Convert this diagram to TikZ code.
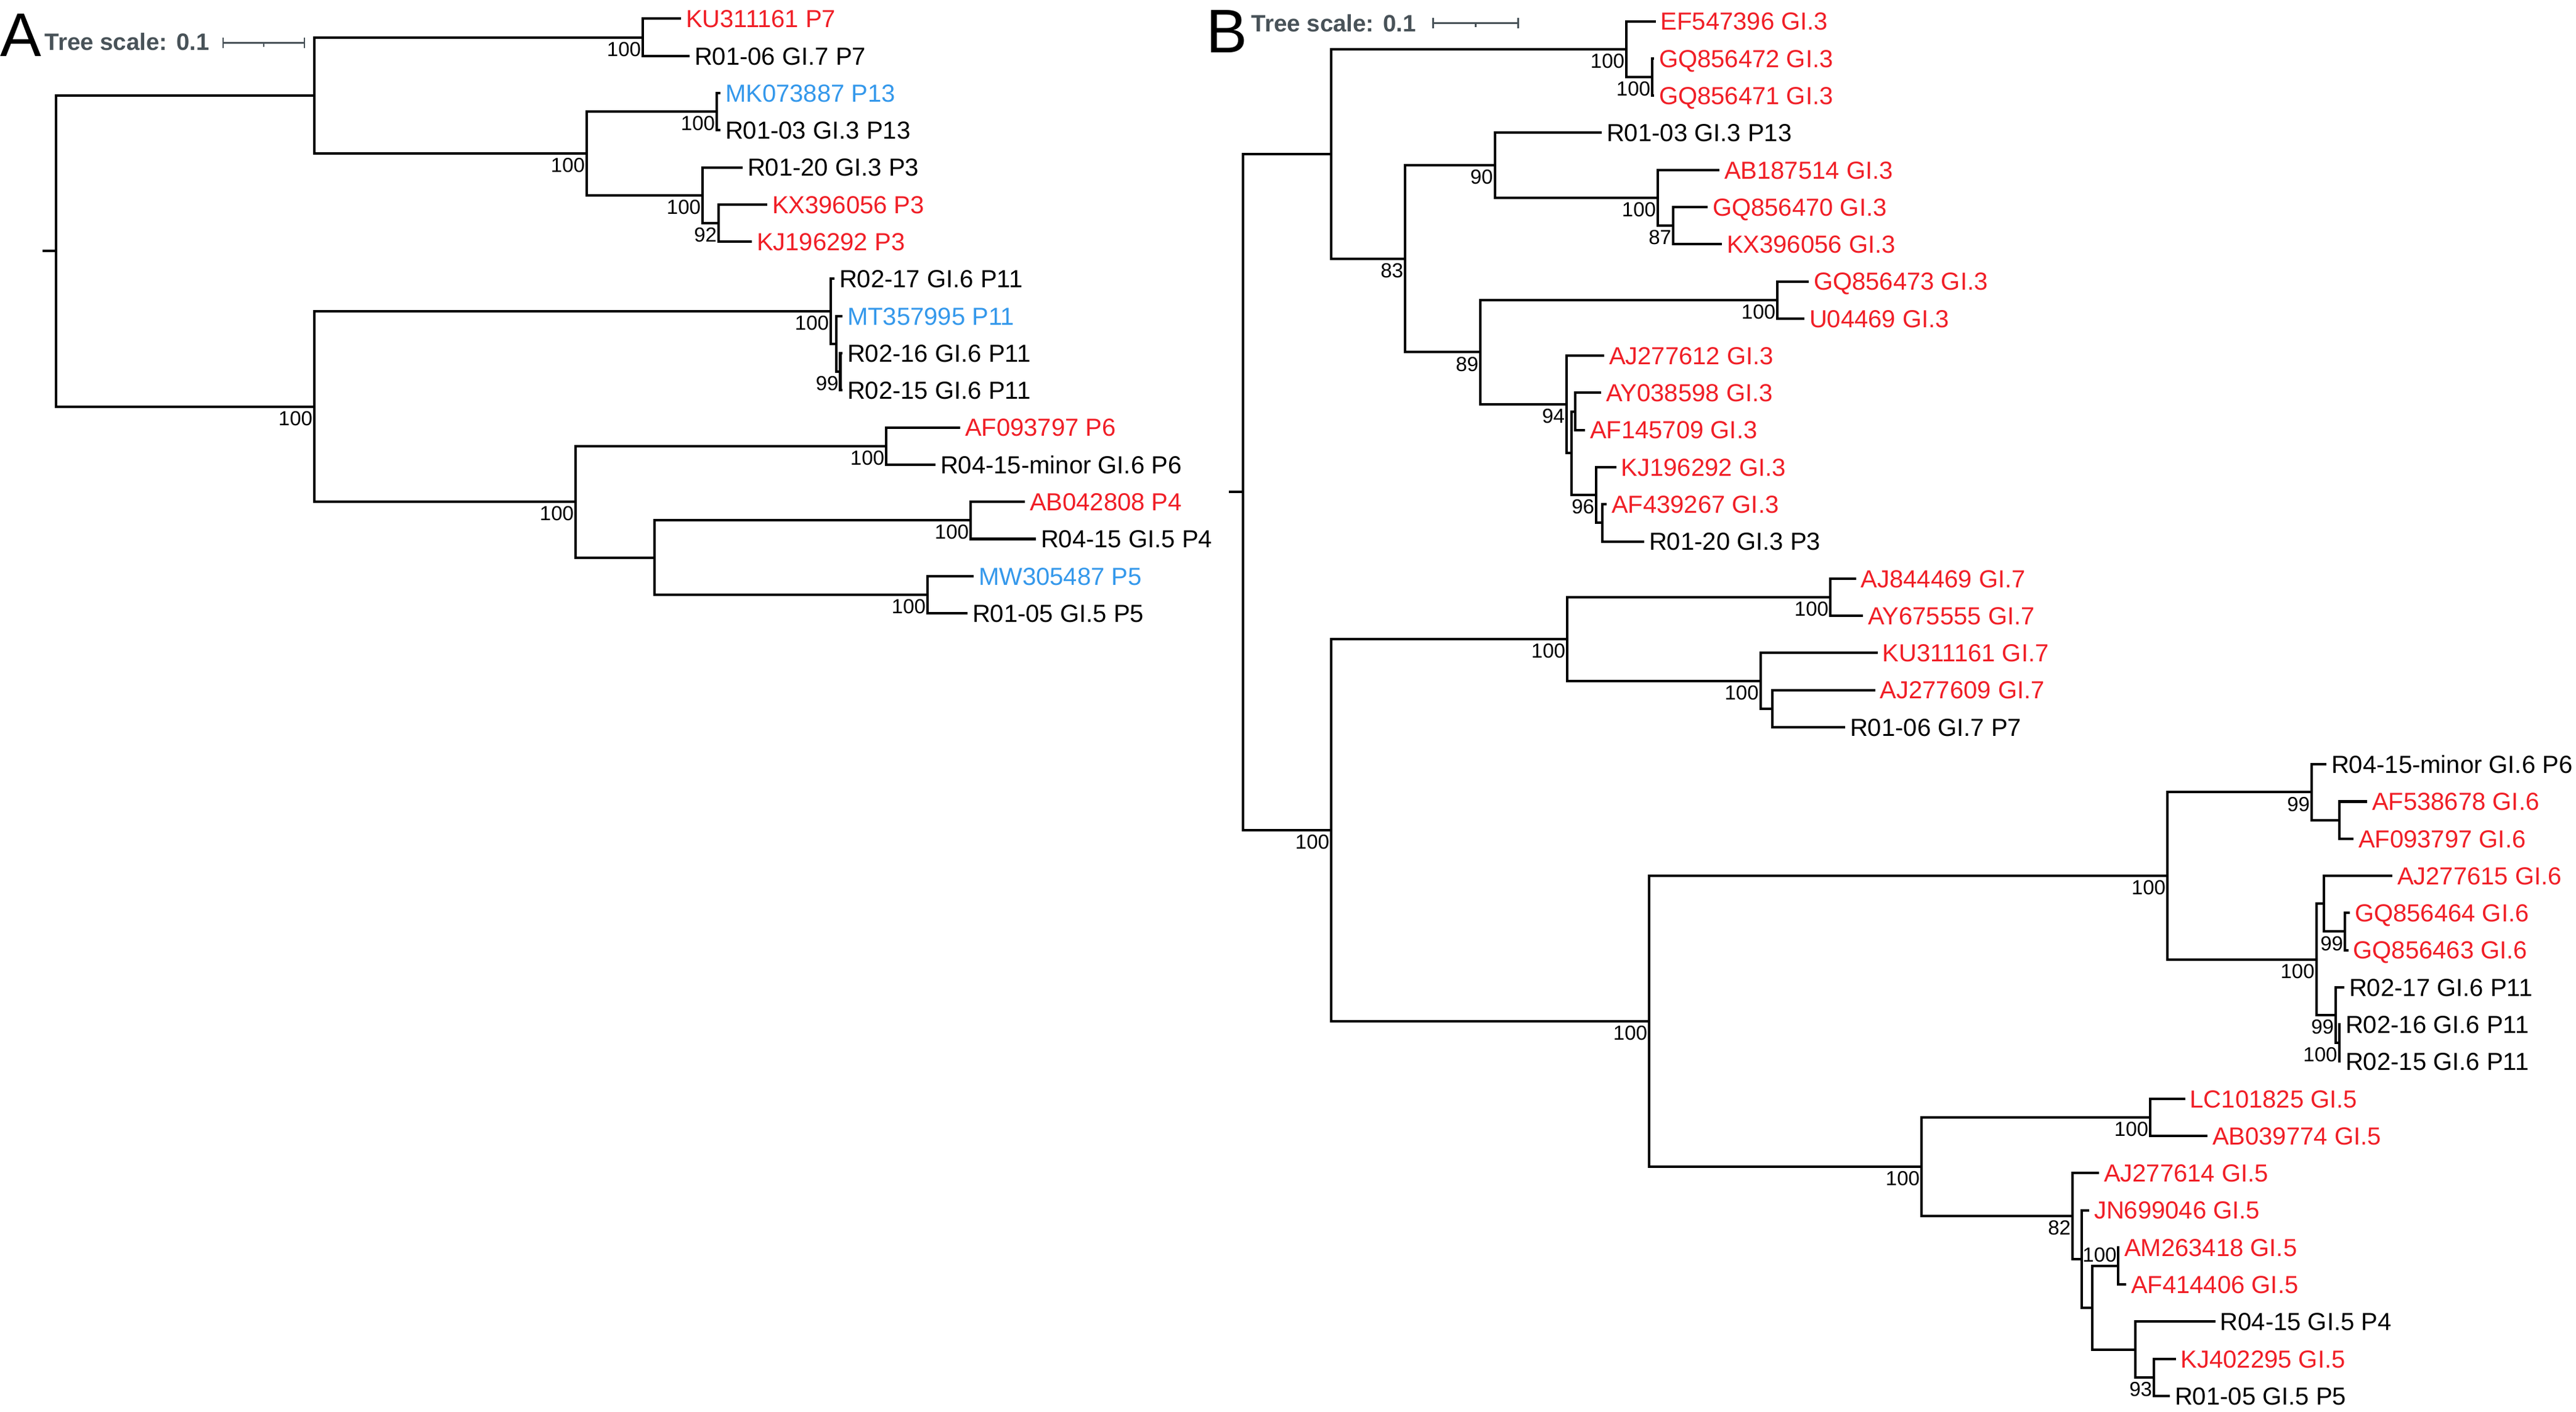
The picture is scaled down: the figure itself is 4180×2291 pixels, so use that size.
\documentclass[tikz,border=0pt]{standalone}
\usepackage{fontspec}
\setmainfont{Liberation Sans}
\definecolor{tred}{RGB}{240,30,38}
\definecolor{tblue}{RGB}{52,152,235}
\definecolor{tgrey}{RGB}{72,82,88}
\newcommand{\leaffont}{\fontsize{11.38pt}{13pt}\selectfont}
\newcommand{\bsfont}{\fontsize{9.39pt}{11pt}\selectfont}
\newcommand{\tsfont}{\fontsize{10.95pt}{13pt}\selectfont\bfseries}
\newcommand{\panelfont}{\fontsize{28.45pt}{32pt}\selectfont}
\begin{document}
\begin{tikzpicture}[x=0.01cm,y=-0.01cm,
  br/.style={line width=1.15pt},
  sbar/.style={line width=0.85pt,draw=tgrey},
  leaf/.style={anchor=west,inner xsep=0.08cm,inner ysep=0pt,outer sep=0pt,text height=0.286cm,text depth=0pt,font=\leaffont},
  rl/.style={leaf,text=tred},
  bl/.style={leaf,text=tblue},
  bs/.style={anchor=north east,inner sep=0pt,outer sep=0pt,text height=0.236cm,text depth=0pt,font=\bsfont,xshift=-0.03cm,yshift=-0.07cm},
  bsfree/.style={inner sep=0pt,outer sep=0pt,text height=0.236cm,text depth=0pt,font=\bsfont},
  panel/.style={anchor=base west,inner sep=0pt,font=\panelfont},
  tscale/.style={anchor=base west,inner sep=0pt,font=\tsfont,text=tgrey}]
\useasboundingbox (0,0) rectangle (4180,2291);

% ================= Panel A =================
\node[panel] (labA) at (0,92) {A};
\node[tscale] (tsA) at (72,82) {Tree scale: 0.1};
\coordinate (sbA1) at (362,69.6);
\coordinate (sbA2) at (494,69.6);
\coordinate (sbAm) at (428,69.6);
\draw[sbar] (sbA1) -- (sbA2);
\draw[sbar] ([yshift=0.085cm]sbA1) -- ([yshift=-0.085cm]sbA1);
\draw[sbar] ([yshift=0.085cm]sbA2) -- ([yshift=-0.085cm]sbA2);
\draw[sbar] (sbAm) -- ([yshift=-0.061cm]sbAm);

% leaves A
\node[rl] (kuA)   at (1105,30.4)  {KU311161 P7};
\node[leaf] (r06A) at (1119,90.7) {R01-06 GI.7 P7};
\node[bl] (mkA)   at (1169,151.0) {MK073887 P13};
\node[leaf] (r03A) at (1169,211.3) {R01-03 GI.3 P13};
\node[leaf] (r20A) at (1205,271.6) {R01-20 GI.3 P3};
\node[rl] (kxA)   at (1245,331.9) {KX396056 P3};
\node[rl] (kjA)   at (1220,392.1) {KJ196292 P3};
\node[leaf] (r17A) at (1354,452.4) {R02-17 GI.6 P11};
\node[bl] (mtA)   at (1367,512.7) {MT357995 P11};
\node[leaf] (r16A) at (1367,573.0) {R02-16 GI.6 P11};
\node[leaf] (r15A) at (1367,633.3) {R02-15 GI.6 P11};
\node[rl] (afA)   at (1558,693.6) {AF093797 P6};
\node[leaf] (r15mA) at (1518,753.9) {R04-15-minor GI.6 P6};
\node[rl] (abA)   at (1663,814.2) {AB042808 P4};
\node[leaf] (r415A) at (1681,874.5) {R04-15 GI.5 P4};
\node[bl] (mwA)   at (1580,934.8) {MW305487 P5};
\node[leaf] (r05A) at (1570,995.0) {R01-05 GI.5 P5};

% internal A
\coordinate (rAs) at (69,407.2);
\coordinate (rA) at (91,407.2);
\coordinate (a1) at (510,154.77);
\coordinate (a11) at (1043,60.55);
\coordinate (a12) at (952,248.98);
\coordinate (a121) at (1163,181.15);
\coordinate (a122) at (1140,316.8);
\coordinate (a1222) at (1166,362.0);
\coordinate (a2) at (510,659.68);
\coordinate (b) at (1348,505.16);
\coordinate (b2) at (1357,557.93);
\coordinate (b22) at (1363.5,603.15);
\coordinate (c) at (934,814.19);
\coordinate (c1) at (1438,723.75);
\coordinate (c2) at (1062,904.63);
\coordinate (c21) at (1575,844.35);
\coordinate (c22) at (1505,964.9);

\draw[br] (rAs) -- (rA);
\foreach \p/\q in {rA/a1,rA/a2,a1/a11,a1/a12,a12/a121,a12/a122,a122/a1222,a2/b,a2/c,b/b2,b2/b22,c/c1,c/c2,c2/c21,c2/c22}
  \draw[br] (\p) |- (\q);
\foreach \p/\q in {a11/kuA,a11/r06A,a121/mkA,a121/r03A,a122/r20A,a1222/kxA,a1222/kjA,b/r17A,b2/mtA,b22/r16A,b22/r15A,c1/afA,c1/r15mA,c21/abA,c21/r415A,c22/mwA,c22/r05A}
  \draw[br] (\p) |- (\q.west);

\foreach \n/\v in {a11/100,a12/100,a121/100,a122/100,a1222/92,a2/100,b/100,b22/99,c/100,c1/100,c21/100,c22/100}
  \node[bs] (bs-\n) at (\n) {\v};

% ================= Panel B =================
\node[panel] (labB) at (1957,86) {B};
\node[tscale] (tsB) at (2030,52) {Tree scale: 0.1};
\coordinate (sbB1) at (2325,37.5);
\coordinate (sbB2) at (2463,37.5);
\coordinate (sbBm) at (2394,37.5);
\draw[sbar] (sbB1) -- (sbB2);
\draw[sbar] ([yshift=0.08cm]sbB1) -- ([yshift=-0.08cm]sbB1);
\draw[sbar] ([yshift=0.08cm]sbB2) -- ([yshift=-0.08cm]sbB2);
\draw[sbar] (sbBm) -- ([yshift=-0.061cm]sbBm);

% leaves B
\node[rl] (ef)   at (2686.6,34.6)  {EF547396 GI.3};
\node[rl] (gq72) at (2684,94.88)   {GQ856472 GI.3};
\node[rl] (gq71) at (2684,155.16)  {GQ856471 GI.3};
\node[leaf] (r03B) at (2599,215.44) {R01-03 GI.3 P13};
\node[rl] (ab18) at (2790,275.72)  {AB187514 GI.3};
\node[rl] (gq70) at (2771,336.0)   {GQ856470 GI.3};
\node[rl] (kxB)  at (2794,396.28)  {KX396056 GI.3};
\node[rl] (gq73) at (2935,456.56)  {GQ856473 GI.3};
\node[rl] (u04)  at (2928,516.84)  {U04469 GI.3};
\node[rl] (aj12) at (2603,577.12)  {AJ277612 GI.3};
\node[rl] (ay03) at (2598,637.4)   {AY038598 GI.3};
\node[rl] (af14) at (2572,697.68)  {AF145709 GI.3};
\node[rl] (kjB)  at (2622.7,757.96) {KJ196292 GI.3};
\node[rl] (af43) at (2607,818.24)  {AF439267 GI.3};
\node[leaf] (r20B) at (2668,878.52) {R01-20 GI.3 P3};
\node[rl] (aj84) at (3011.7,938.8) {AJ844469 GI.7};
\node[rl] (ay67) at (3023,999.08)  {AY675555 GI.7};
\node[rl] (kuB)  at (3046.7,1059.36) {KU311161 GI.7};
\node[rl] (aj09) at (3042.7,1119.64) {AJ277609 GI.7};
\node[leaf] (r06B) at (2994,1179.92) {R01-06 GI.7 P7};
\node[leaf] (r15mB) at (3775,1240.2) {R04-15-minor GI.6 P6};
\node[rl] (af53) at (3841,1300.48) {AF538678 GI.6};
\node[rl] (af09) at (3819,1360.76) {AF093797 GI.6};
\node[rl] (aj15) at (3882,1421.04) {AJ277615 GI.6};
\node[rl] (gq64) at (3813,1481.32) {GQ856464 GI.6};
\node[rl] (gq63) at (3810.5,1541.6) {GQ856463 GI.6};
\node[leaf] (r17B) at (3804,1601.88) {R02-17 GI.6 P11};
\node[leaf] (r16B) at (3798,1662.16) {R02-16 GI.6 P11};
\node[leaf] (r15B) at (3798,1722.44) {R02-15 GI.6 P11};
\node[rl] (lc10) at (3545.6,1782.72) {LC101825 GI.5};
\node[rl] (ab03) at (3582,1843.0) {AB039774 GI.5};
\node[rl] (aj14) at (3406,1903.28) {AJ277614 GI.5};
\node[rl] (jn69) at (3390,1963.56) {JN699046 GI.5};
\node[rl] (am26) at (3439,2023.84) {AM263418 GI.5};
\node[rl] (af41) at (3450,2084.12) {AF414406 GI.5};
\node[leaf] (r415B) at (3594.6,2144.4) {R04-15 GI.5 P4};
\node[rl] (kj40) at (3530.6,2204.68) {KJ402295 GI.5};
\node[leaf] (r05B) at (3521,2264.96) {R01-05 GI.5 P5};

% internal B
\coordinate (rBs) at (1994,798.35);
\coordinate (rB) at (2017,798.35);
\coordinate (d) at (2160,249.82);
\coordinate (d1) at (2639,79.81);
\coordinate (d12) at (2681,125.02);
\coordinate (d2) at (2280,419.83);
\coordinate (d21) at (2425.6,268.19);
\coordinate (d212) at (2690,320.93);
\coordinate (d2122) at (2715,366.14);
\coordinate (d22) at (2402,571.47);
\coordinate (d221) at (2884,486.7);
\coordinate (d222) at (2542,656.24);
\coordinate (d2222) at (2550,735.36);
\coordinate (f1) at (2556,667.54);
\coordinate (f2) at (2590,803.17);
\coordinate (f22) at (2599.5,848.38);
\coordinate (e) at (2160,1346.87);
\coordinate (g) at (2543,1036.76);
\coordinate (g1) at (2970,968.94);
\coordinate (g2) at (2856.7,1104.57);
\coordinate (g22) at (2876,1149.78);
\coordinate (hk) at (2676,1656.98);
\coordinate (h) at (3517,1421.04);
\coordinate (h1) at (3751,1285.41);
\coordinate (h12) at (3795.5,1330.62);
\coordinate (h2) at (3758.6,1556.67);
\coordinate (h21) at (3771.4,1466.25);
\coordinate (h212) at (3805,1511.46);
\coordinate (h22) at (3790,1647.09);
\coordinate (h222) at (3795.5,1692.3);
\coordinate (k) at (3118,1892.92);
\coordinate (k1) at (3489,1812.86);
\coordinate (m2) at (3363,1972.98);
\coordinate (m22) at (3378,2042.68);
\coordinate (m222) at (3395,2121.8);
\coordinate (m2221) at (3437,2054.0);
\coordinate (m2222) at (3465,2189.61);
\coordinate (m22221) at (3495,2234.82);

\draw[br] (rBs) -- (rB);
\foreach \p/\q in {rB/d,rB/e,d/d1,d/d2,d1/d12,d2/d21,d2/d22,d21/d212,d212/d2122,d22/d221,d22/d222,d222/d2222,d2222/f1,d2222/f2,f2/f22,e/g,e/hk,g/g1,g/g2,g2/g22,hk/h,hk/k,h/h1,h/h2,h1/h12,h2/h21,h2/h22,h21/h212,h22/h222,k/k1,k/m2,m2/m22,m22/m222,m222/m2221,m222/m2222,m2222/m22221}
  \draw[br] (\p) |- (\q);
\foreach \p/\q in {d1/ef,d12/gq72,d12/gq71,d21/r03B,d212/ab18,d2122/gq70,d2122/kxB,d221/gq73,d221/u04,d222/aj12,f1/ay03,f1/af14,f2/kjB,f22/af43,f22/r20B,g1/aj84,g1/ay67,g2/kuB,g22/aj09,g22/r06B,h1/r15mB,h12/af53,h12/af09,h21/aj15,h212/gq64,h212/gq63,h22/r17B,h222/r16B,h222/r15B,k1/lc10,k1/ab03,m2/aj14,m22/jn69,m2221/am26,m2221/af41,m2222/r415B,m22221/kj40,m22221/r05B}
  \draw[br] (\p) |- (\q.west);

\foreach \n/\v in {d1/100,d12/100,d2/83,d21/90,d212/100,d2122/87,d22/89,d221/100,d222/94,f2/96,e/100,g/100,g1/100,g2/100,hk/100,h/100,h1/99,h2/100,h212/99,h22/99,h222/100,k/100,k1/100,m2/82,m22221/93}
  \node[bs] (bs-\n) at (\n) {\v};
\node[bsfree,anchor=north east] (bs-m2221) at (3434.5,2024) {100};

\end{tikzpicture}
\end{document}
